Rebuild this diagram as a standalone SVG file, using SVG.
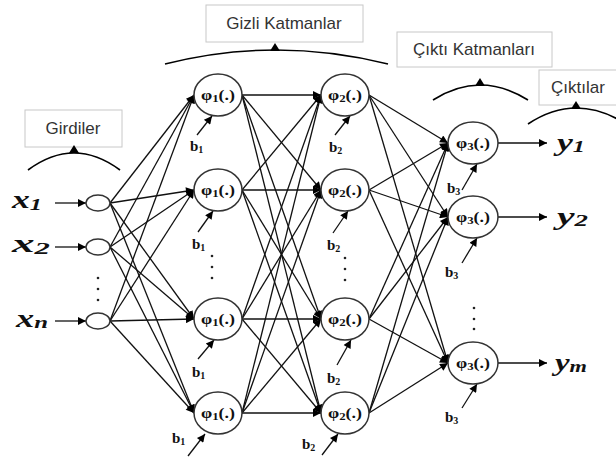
<svg xmlns="http://www.w3.org/2000/svg" width="616" height="460" viewBox="0 0 616 460">
<style>
.bg{fill:#fff}
.box{fill:#fff;stroke:#c8c8c8;stroke-width:1}
.lbl{font-family:"Liberation Sans",Arial,sans-serif;font-size:17px;fill:#333;text-anchor:middle}
.arc{fill:none;stroke:#000;stroke-width:1.6}
.node{fill:#fff;stroke:#333;stroke-width:1.5}
.in{fill:#fff;stroke:#333;stroke-width:1.4}
.phi{font-family:"Liberation Serif","Times New Roman",serif;font-weight:bold;font-size:14px;fill:#111}
.b{font-family:"Liberation Serif","Times New Roman",serif;font-weight:bold;font-size:15px;fill:#111}
.sub{font-size:10px}
.var{font-family:"Liberation Serif","Times New Roman",serif;font-weight:bold;font-style:italic;font-size:25px;fill:#111}
.vsub{font-size:17px}
.c line{stroke:#111;stroke-width:1.3;marker-end:url(#ah)}
.dot{fill:#222}
</style>
<defs>
<marker id="ah" viewBox="0 0 10 10" refX="10" refY="5" markerWidth="11" markerHeight="8" markerUnits="userSpaceOnUse" orient="auto"><path d="M0,0 L10,5 L0,10 z" fill="#000"/></marker>
</defs>
<rect class="bg" width="616" height="460"/>

<g id="label-girdiler">
<rect class="box" x="25" y="110" width="97" height="37"/>
<text class="lbl" x="73" y="134">Girdiler</text>
<path class="arc" d="M28,170 Q74,136 120,170"/>
<polygon points="69,153 79,153 74,145" fill="#000"/>
</g>
<g id="label-gizli">
<rect class="box" x="206" y="5" width="157" height="37"/>
<text class="lbl" x="284" y="29">Gizli Katmanlar</text>
<path class="arc" d="M165,64 Q275,36 388,64"/>
<polygon points="270,51 280,51 275,43" fill="#000"/>
</g>
<g id="label-cikti-katmanlari">
<rect class="box" x="397" y="32" width="155" height="35"/>
<text class="lbl" x="474" y="55">Çıktı Katmanları</text>
<path class="arc" d="M433,100 Q480,70 528,100"/>
<polygon points="475,86 485,86 480,78" fill="#000"/>
</g>
<g id="label-ciktilar">
<rect class="box" x="539" y="70" width="90" height="35"/>
<text class="lbl" x="578" y="93">Çıktılar</text>
<path class="arc" d="M528,124 Q576,92 626,124"/>
<polygon points="571,109 581,109 576,101" fill="#000"/>
</g>

<g id="connectors" class="c">
<line x1="55" y1="203" x2="86" y2="203"/>
<line x1="55" y1="247" x2="86" y2="247"/>
<line x1="55" y1="321" x2="86" y2="321"/>

<line x1="110" y1="203" x2="194" y2="95"/>
<line x1="110" y1="203" x2="194" y2="190"/>
<line x1="110" y1="203" x2="194" y2="319"/>
<line x1="110" y1="203" x2="194" y2="413"/>
<line x1="110" y1="247" x2="194" y2="95"/>
<line x1="110" y1="247" x2="194" y2="190"/>
<line x1="110" y1="247" x2="194" y2="319"/>
<line x1="110" y1="247" x2="194" y2="413"/>
<line x1="110" y1="321" x2="194" y2="95"/>
<line x1="110" y1="321" x2="194" y2="190"/>
<line x1="110" y1="321" x2="194" y2="319"/>
<line x1="110" y1="321" x2="194" y2="413"/>

<line x1="242" y1="95" x2="321" y2="95"/>
<line x1="242" y1="95" x2="321" y2="190"/>
<line x1="242" y1="95" x2="321" y2="319"/>
<line x1="242" y1="95" x2="321" y2="413"/>
<line x1="242" y1="190" x2="321" y2="95"/>
<line x1="242" y1="190" x2="321" y2="190"/>
<line x1="242" y1="190" x2="321" y2="319"/>
<line x1="242" y1="190" x2="321" y2="413"/>
<line x1="242" y1="319" x2="321" y2="95"/>
<line x1="242" y1="319" x2="321" y2="190"/>
<line x1="242" y1="319" x2="321" y2="319"/>
<line x1="242" y1="319" x2="321" y2="413"/>
<line x1="242" y1="413" x2="321" y2="95"/>
<line x1="242" y1="413" x2="321" y2="190"/>
<line x1="242" y1="413" x2="321" y2="319"/>
<line x1="242" y1="413" x2="321" y2="413"/>

<line x1="369" y1="95" x2="448" y2="143"/>
<line x1="369" y1="95" x2="448" y2="217"/>
<line x1="369" y1="95" x2="448" y2="363"/>
<line x1="369" y1="190" x2="448" y2="143"/>
<line x1="369" y1="190" x2="448" y2="217"/>
<line x1="369" y1="190" x2="448" y2="363"/>
<line x1="369" y1="319" x2="448" y2="143"/>
<line x1="369" y1="319" x2="448" y2="217"/>
<line x1="369" y1="319" x2="448" y2="363"/>
<line x1="369" y1="413" x2="448" y2="143"/>
<line x1="369" y1="413" x2="448" y2="217"/>
<line x1="369" y1="413" x2="448" y2="363"/>

<line x1="498" y1="143" x2="547" y2="143"/>
<line x1="498" y1="217" x2="547" y2="217"/>
<line x1="498" y1="363" x2="547" y2="363"/>

<line x1="197" y1="135" x2="212" y2="116"/>
<line x1="198" y1="232" x2="213" y2="211"/>
<line x1="198" y1="359" x2="214" y2="340"/>
<line x1="188" y1="456" x2="205" y2="434"/>
<line x1="335" y1="135" x2="350" y2="116"/>
<line x1="333" y1="233" x2="348" y2="211"/>
<line x1="337" y1="365" x2="351" y2="340"/>
<line x1="322" y1="455" x2="338" y2="434"/>
<line x1="462" y1="190" x2="477" y2="164"/>
<line x1="462" y1="263" x2="477" y2="238"/>
<line x1="462" y1="408" x2="477" y2="384"/>
</g>

<g id="x1"><text class="var" x="12" y="208" textLength="30" lengthAdjust="spacingAndGlyphs">x<tspan class="vsub" dy="2">1</tspan></text></g>
<g id="x2"><text class="var" x="12" y="252" textLength="38" lengthAdjust="spacingAndGlyphs">x<tspan class="vsub" dy="2">2</tspan></text></g>
<g id="xn"><text class="var" x="16" y="327" textLength="32" lengthAdjust="spacingAndGlyphs">x<tspan class="vsub" dy="1">n</tspan></text></g>

<g id="in1"><ellipse class="in" cx="98" cy="203" rx="12" ry="8"/></g>
<g id="in2"><ellipse class="in" cx="98" cy="247" rx="12" ry="8"/></g>
<g id="inn"><ellipse class="in" cx="98" cy="321" rx="12" ry="8"/></g>
<g id="in-dots"><circle class="dot" cx="98" cy="278" r="1.3"/><circle class="dot" cx="98" cy="289" r="1.3"/><circle class="dot" cx="98" cy="300" r="1.3"/></g>

<g id="h1a"><ellipse class="node" cx="218" cy="95" rx="24" ry="21"/><text class="phi" x="201" y="100" textLength="34" lengthAdjust="spacingAndGlyphs">φ<tspan class="sub" dy="2">1</tspan><tspan dy="-2">(.)</tspan></text></g>
<g id="h1b"><ellipse class="node" cx="218" cy="190" rx="24" ry="21"/><text class="phi" x="201" y="195" textLength="34" lengthAdjust="spacingAndGlyphs">φ<tspan class="sub" dy="2">1</tspan><tspan dy="-2">(.)</tspan></text></g>
<g id="h1c"><ellipse class="node" cx="218" cy="319" rx="24" ry="21"/><text class="phi" x="201" y="324" textLength="34" lengthAdjust="spacingAndGlyphs">φ<tspan class="sub" dy="2">1</tspan><tspan dy="-2">(.)</tspan></text></g>
<g id="h1d"><ellipse class="node" cx="218" cy="413" rx="24" ry="21"/><text class="phi" x="201" y="418" textLength="34" lengthAdjust="spacingAndGlyphs">φ<tspan class="sub" dy="2">1</tspan><tspan dy="-2">(.)</tspan></text></g>
<g id="h1-dots"><circle class="dot" cx="212" cy="256" r="1.3"/><circle class="dot" cx="212" cy="267" r="1.3"/><circle class="dot" cx="212" cy="278" r="1.3"/></g>

<g id="h2a"><ellipse class="node" cx="345" cy="95" rx="24" ry="21"/><text class="phi" x="328" y="100" textLength="34" lengthAdjust="spacingAndGlyphs">φ<tspan class="sub" dy="2">2</tspan><tspan dy="-2">(.)</tspan></text></g>
<g id="h2b"><ellipse class="node" cx="345" cy="190" rx="24" ry="21"/><text class="phi" x="328" y="195" textLength="34" lengthAdjust="spacingAndGlyphs">φ<tspan class="sub" dy="2">2</tspan><tspan dy="-2">(.)</tspan></text></g>
<g id="h2c"><ellipse class="node" cx="345" cy="319" rx="24" ry="21"/><text class="phi" x="328" y="324" textLength="34" lengthAdjust="spacingAndGlyphs">φ<tspan class="sub" dy="2">2</tspan><tspan dy="-2">(.)</tspan></text></g>
<g id="h2d"><ellipse class="node" cx="345" cy="413" rx="24" ry="21"/><text class="phi" x="328" y="418" textLength="34" lengthAdjust="spacingAndGlyphs">φ<tspan class="sub" dy="2">2</tspan><tspan dy="-2">(.)</tspan></text></g>
<g id="h2-dots"><circle class="dot" cx="345" cy="258" r="1.3"/><circle class="dot" cx="345" cy="269" r="1.3"/><circle class="dot" cx="345" cy="280" r="1.3"/></g>

<g id="o1"><ellipse class="node" cx="473" cy="143" rx="25" ry="21"/><text class="phi" x="456" y="148" textLength="34" lengthAdjust="spacingAndGlyphs">φ<tspan class="sub" dy="2">3</tspan><tspan dy="-2">(.)</tspan></text></g>
<g id="o2"><ellipse class="node" cx="473" cy="217" rx="25" ry="21"/><text class="phi" x="456" y="222" textLength="34" lengthAdjust="spacingAndGlyphs">φ<tspan class="sub" dy="2">3</tspan><tspan dy="-2">(.)</tspan></text></g>
<g id="om"><ellipse class="node" cx="473" cy="363" rx="25" ry="21"/><text class="phi" x="456" y="368" textLength="34" lengthAdjust="spacingAndGlyphs">φ<tspan class="sub" dy="2">3</tspan><tspan dy="-2">(.)</tspan></text></g>
<g id="o-dots"><circle class="dot" cx="474" cy="308" r="1.3"/><circle class="dot" cx="474" cy="319" r="1.3"/><circle class="dot" cx="474" cy="329" r="1.3"/></g>

<g id="biases">
<text class="b" x="190" y="151">b<tspan class="sub" dy="2">1</tspan></text>
<text class="b" x="192" y="249">b<tspan class="sub" dy="2">1</tspan></text>
<text class="b" x="192" y="377">b<tspan class="sub" dy="2">1</tspan></text>
<text class="b" x="172" y="443">b<tspan class="sub" dy="2">1</tspan></text>
<text class="b" x="329" y="152">b<tspan class="sub" dy="2">2</tspan></text>
<text class="b" x="327" y="250">b<tspan class="sub" dy="2">2</tspan></text>
<text class="b" x="327" y="383">b<tspan class="sub" dy="2">2</tspan></text>
<text class="b" x="302" y="449">b<tspan class="sub" dy="2">2</tspan></text>
<text class="b" x="447" y="193">b<tspan class="sub" dy="2">3</tspan></text>
<text class="b" x="445" y="277">b<tspan class="sub" dy="2">3</tspan></text>
<text class="b" x="445" y="422">b<tspan class="sub" dy="2">3</tspan></text>
</g>

<g id="y1"><text class="var" x="557" y="151" textLength="28" lengthAdjust="spacingAndGlyphs">y<tspan class="vsub" dy="1">1</tspan></text></g>
<g id="y2"><text class="var" x="557" y="225" textLength="31" lengthAdjust="spacingAndGlyphs">y<tspan class="vsub" dy="1">2</tspan></text></g>
<g id="ym"><text class="var" x="555" y="371" textLength="32" lengthAdjust="spacingAndGlyphs">y<tspan class="vsub" dy="1">m</tspan></text></g>
</svg>
